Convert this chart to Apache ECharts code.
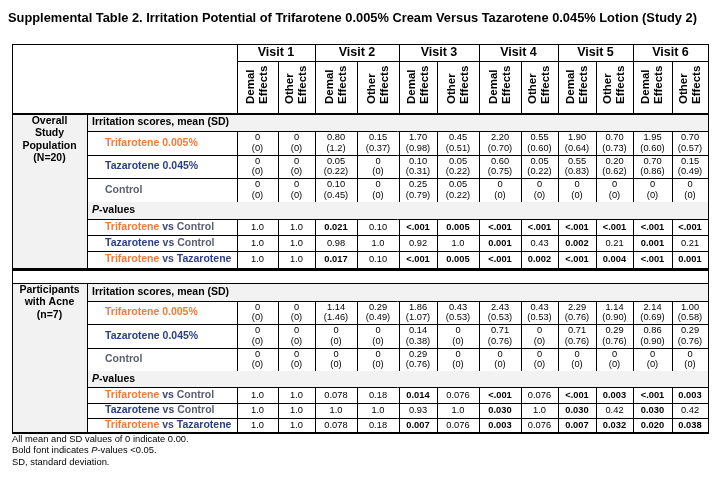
<!DOCTYPE html>
<html><head><meta charset="utf-8">
<script src="https://cdn.jsdelivr.net/npm/echarts@6/dist/echarts.min.js"></script>
<style>html,body{margin:0;padding:0;background:#fff}#c{width:725px;height:497px}</style>
</head><body><div id="c"></div>
<script>
// ---------- data ----------
const titleText = 'Supplemental Table 2. Irritation Potential of Trifarotene 0.005% Cream Versus Tazarotene 0.045% Lotion (Study 2)';
const visits = ['Visit 1','Visit 2','Visit 3','Visit 4','Visit 5','Visit 6'];
const subCols = [['Demal','Effects'],['Other','Effects']];
const groupLabels = [['Overall','Study','Population','(N=20)'], ['Participants','with Acne','(n=7)']];
const armLabels = ['Trifarotene 0.005%','Tazarotene 0.045%','Control'];
const compLabels = [['Trifarotene','Control'],['Tazarotene','Control'],['Trifarotene','Tazarotene']];

const ovTrifMean = ['0','0','0.80','0.15','1.70','0.45','2.20','0.55','1.90','0.70','1.95','0.70'];
const ovTrifSD   = ['0','0','1.2','0.37','0.98','0.51','0.70','0.60','0.64','0.73','0.60','0.57'];
const ovTazMean  = ['0','0','0.05','0','0.10','0.05','0.60','0.05','0.55','0.20','0.70','0.15'];
const ovTazSD    = ['0','0','0.22','0','0.31','0.22','0.75','0.22','0.83','0.62','0.86','0.49'];
const ovCtrlMean = ['0','0','0.10','0','0.25','0.05','0','0','0','0','0','0'];
const ovCtrlSD   = ['0','0','0.45','0','0.79','0.22','0','0','0','0','0','0'];
const ovP_TvC    = ['1.0','1.0','0.021','0.10','<.001','0.005','<.001','<.001','<.001','<.001','<.001','<.001'];
const ovP_ZvC    = ['1.0','1.0','0.98','1.0','0.92','1.0','0.001','0.43','0.002','0.21','0.001','0.21'];
const ovP_TvZ    = ['1.0','1.0','0.017','0.10','<.001','0.005','<.001','0.002','<.001','0.004','<.001','0.001'];

const acTrifMean = ['0','0','1.14','0.29','1.86','0.43','2.43','0.43','2.29','1.14','2.14','1.00'];
const acTrifSD   = ['0','0','1.46','0.49','1.07','0.53','0.53','0.53','0.76','0.90','0.69','0.58'];
const acTazMean  = ['0','0','0','0','0.14','0','0.71','0','0.71','0.29','0.86','0.29'];
const acTazSD    = ['0','0','0','0','0.38','0','0.76','0','0.76','0.76','0.90','0.76'];
const acCtrlMean = ['0','0','0','0','0.29','0','0','0','0','0','0','0'];
const acCtrlSD   = ['0','0','0','0','0.76','0','0','0','0','0','0','0'];
const acP_TvC    = ['1.0','1.0','0.078','0.18','0.014','0.076','<.001','0.076','<.001','0.003','<.001','0.003'];
const acP_ZvC    = ['1.0','1.0','1.0','1.0','0.93','1.0','0.030','1.0','0.030','0.42','0.030','0.42'];
const acP_TvZ    = ['1.0','1.0','0.078','0.18','0.007','0.076','0.003','0.076','0.007','0.032','0.020','0.038'];

const footnotes = ['All mean and SD values of 0 indicate 0.00.', 'Bold font indicates {i|P}-values <0.05.', 'SD, standard deviation.'];

// ---------- layout ----------
const FF = '"Liberation Sans", Arial, Helvetica, sans-serif';
const COLX = [237,278,315,357,399,437,479,521,558,596,633,672,708];
const XL = 12, XLBL = 87, XR = 708;
const HEAD_TOP = 44, VISIT_BOT = 61, HEAD_BOT = 114;
const sec1Y = [114,131,155,178,202,219,235,251,268];
const sec2Y = [283,301,324,348,371,387,403,418,433];
const GRAY = '#f2f2f2';
const C_OR = '#F47A38', C_BL = '#2A3F85', C_GR = '#5B5F6E', C_VS = '#3C4670';
const armColors = [C_OR, C_BL, C_GR];
const compColors = {Trifarotene: C_OR, Tazarotene: C_BL, Control: C_GR};

const els = [];
function rect(x,y,w,h,fill){ els.push({type:'rect',silent:true,shape:{x,y,width:w,height:h},style:{fill}}); }
function hline(y,x1,x2,w){ w=w||1; const yy = (w%2===1)? Math.floor(y)+0.5 : Math.round(y); els.push({type:'line',silent:true,shape:{x1,y1:yy,x2,y2:yy},style:{stroke:'#000',lineWidth:w}}); }
function vline(x,y1,y2,w){ w=w||1; const xx = (w%2===1)? Math.floor(x)+0.5 : Math.round(x); els.push({type:'line',silent:true,shape:{x1:xx,y1,x2:xx,y2},style:{stroke:'#000',lineWidth:w}}); }
function text(x,y,str,o){ o=o||{}; els.push({type:'text',silent:true,x,y,rotation:o.rot||0,style:Object.assign({text:str,fontFamily:FF,fontSize:o.size||10,fontWeight:o.bold?'bold':'normal',fill:o.fill||'#000',align:o.align||'center',verticalAlign:'middle'}, o.style||{})}); }

function isBold(p){ if (p.indexOf('<')===0) return true; return parseFloat(p) < 0.05; }

// title (condensed bold, like Arial Narrow)
(function(){
  const c = document.createElement('canvas').getContext('2d');
  const sz = 13;
  c.font = 'bold ' + sz + 'px ' + FF;
  const w = c.measureText(titleText).width;
  const sx = 689 / w;
  els.push({type:'text',silent:true,x:8,y:18,scaleX:sx,scaleY:1,style:{text:titleText,fontFamily:FF,fontWeight:'bold',fontSize:sz,fill:'#000',align:'left',verticalAlign:'middle'}});
})();

// header
for (let v=0; v<visits.length; v++){
  const x0 = COLX[2*v], x1 = COLX[2*v+2];
  text((x0+x1)/2, 53, visits[v], {size:12.5, bold:true});
  for (let s=0;s<2;s++){
    const a = COLX[2*v+s], b = COLX[2*v+s+1], cx=(a+b)/2;
    text(cx-6.5, 104, subCols[s][0], {size:11.5,bold:true,align:'left',rot:Math.PI/2});
    text(cx+6.5, 104, subCols[s][1], {size:11.5,bold:true,align:'left',rot:Math.PI/2});
  }
}

function section(Y, glabel, means, sds, pvals){
  const top = Y[0], bot = Y[8];
  rect(XL, top, XLBL-XL, bot-top, GRAY);
  rect(XLBL, Y[0], XR-XLBL, Y[1]-Y[0], GRAY);
  rect(XLBL, Y[4], XR-XLBL, Y[5]-Y[4], GRAY);
  // group label
  const lh = glabel.length===4 ? 12.4 : 12.5;
  glabel.forEach((t,i)=> text((XL+XLBL)/2, top+7+i*lh, t, {size:10.5,bold:true}));
  text(92, (Y[0]+Y[1])/2, 'Irritation scores, mean (SD)', {size:10.5,bold:true,align:'left'});
  text(92, (Y[4]+Y[5])/2, '{i|P}{b|-values}', {size:10.5,bold:true,align:'left',style:{rich:{i:{fontStyle:'italic',fontWeight:'bold',fontSize:10.5,fontFamily:FF,fill:'#000'},b:{fontWeight:'bold',fontSize:10.5,fontFamily:FF,fill:'#000'}}}});
  // arm rows
  for (let r=0;r<3;r++){
    const y0=Y[1+r], y1=Y[2+r], cy=(y0+y1)/2;
    text(105, cy, armLabels[r], {size:10.5,bold:true,align:'left',fill:armColors[r]});
    for (let c=0;c<12;c++){
      const cx=(COLX[c]+COLX[c+1])/2;
      text(cx, cy-5.3, means[r][c], {size:9.3});
      text(cx, cy+5, '('+sds[r][c]+')', {size:9.3});
    }
  }
  // p rows
  for (let r=0;r<3;r++){
    const y0=Y[5+r], y1=Y[6+r], cy=(y0+y1)/2;
    const [a,b] = compLabels[r];
    text(105, cy, '{a|'+a+'} {v|vs} {b|'+b+'}', {size:10.5,bold:true,align:'left',style:{rich:{
      a:{fill:compColors[a],fontWeight:'bold',fontSize:10.5,fontFamily:FF},
      v:{fill:C_VS,fontWeight:'bold',fontSize:10.5,fontFamily:FF},
      b:{fill:compColors[b],fontWeight:'bold',fontSize:10.5,fontFamily:FF}}}});
    for (let c=0;c<12;c++){
      const cx=(COLX[c]+COLX[c+1])/2;
      text(cx, cy, pvals[r][c], {size:9.3,bold:isBold(pvals[r][c])});
    }
  }
  // lines
  vline(XLBL, top, bot);
  [1,5,6,7].forEach(i=>hline(Y[i], XLBL, XR));
  [2,3].forEach(i=>hline(Y[i], XLBL, XR));
  for (let c=0;c<12;c++){
    vline(COLX[c], Y[1], Y[4]);
    vline(COLX[c], Y[5], Y[8]);
  }
}

section(sec1Y, groupLabels[0], [ovTrifMean,ovTazMean,ovCtrlMean], [ovTrifSD,ovTazSD,ovCtrlSD], [ovP_TvC,ovP_ZvC,ovP_TvZ]);
section(sec2Y, groupLabels[1], [acTrifMean,acTazMean,acCtrlMean], [acTrifSD,acTazSD,acCtrlSD], [acP_TvC,acP_ZvC,acP_TvZ]);

// header/outer lines
hline(HEAD_TOP, XL, XR+0.5);
hline(VISIT_BOT, COLX[0], XR);
for (let c=0;c<=12;c+=2) vline(COLX[c], HEAD_TOP, HEAD_BOT);
for (let c=1;c<12;c+=2) vline(COLX[c], VISIT_BOT, HEAD_BOT);
hline(HEAD_BOT, XL, XR+1, 2);
hline(269, XL, XR+1, 3);
hline(sec2Y[0], XL, XR);
hline(sec2Y[8], XL, XR+1, 2);
vline(XL, HEAD_TOP, sec2Y[8]+1);
vline(XR, HEAD_TOP, sec2Y[8]+1);

// footnotes
footnotes.forEach((t,i)=> text(12, 439+i*11.5, t, {size:9.4,align:'left',style:{rich:{i:{fontStyle:'italic',fontSize:9.4,fontFamily:FF,fill:'#000'}}}}));

const chart = echarts.init(document.getElementById('c'), null, {renderer:'canvas'});
chart.setOption({animation:false, graphic:{elements:els}});
</script>
</body></html>
